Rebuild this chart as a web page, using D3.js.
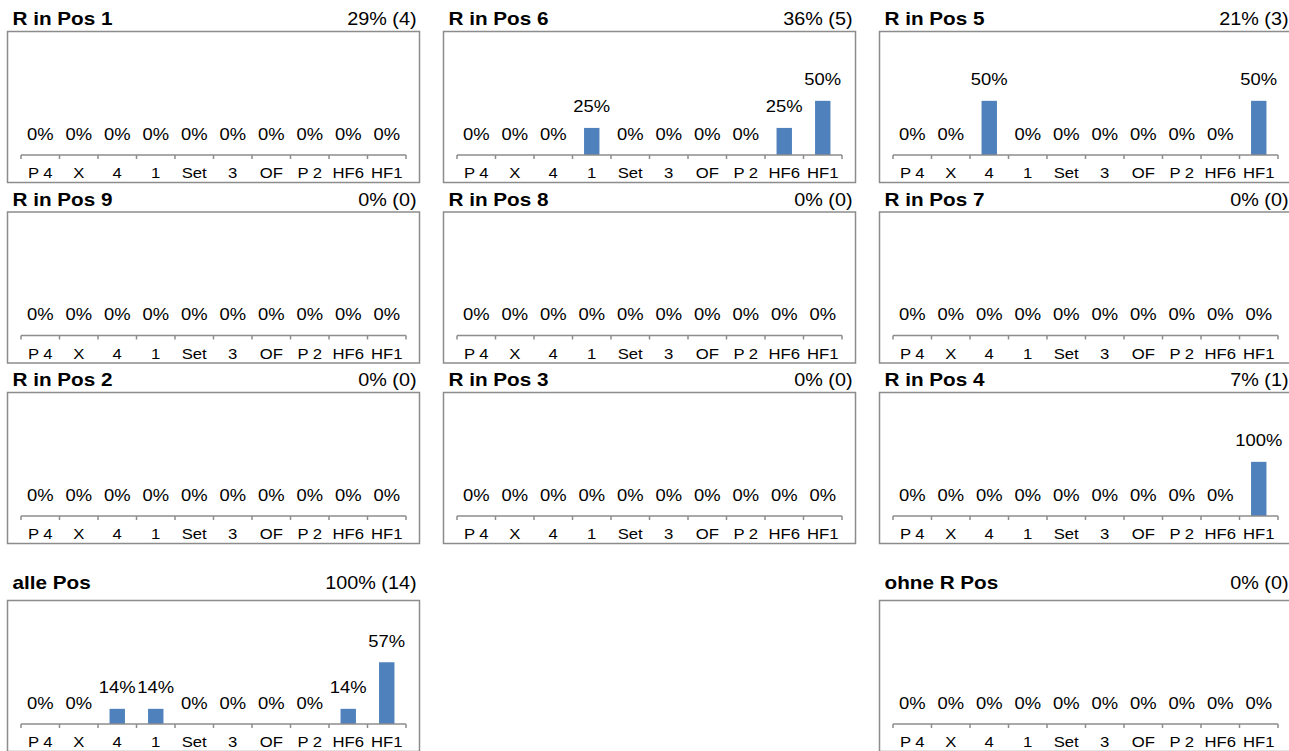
<!DOCTYPE html>
<html>
<head>
<meta charset="utf-8">
<script src="https://cdn.jsdelivr.net/npm/d3@7"></script>
<style>
  html, body { margin: 0; padding: 0; background: #fff; }
  svg { display: block; font-family: "Liberation Sans", Arial, sans-serif; }
</style>
</head>
<body>
<svg id="chart" width="1289" height="751"></svg>
<script>
// Categories on every small chart's x axis
const categories = ["P 4", "X", "4", "1", "Set", "3", "OF", "P 2", "HF6", "HF1"];

// Panel headings, overall share (%) and count, in grid order (null = empty slot)
const panelNames  = ["R in Pos 1", "R in Pos 6", "R in Pos 5",
                     "R in Pos 9", "R in Pos 8", "R in Pos 7",
                     "R in Pos 2", "R in Pos 3", "R in Pos 4",
                     "alle Pos", null, "ohne R Pos"];
const panelShares = [29, 36, 21, 0, 0, 0, 0, 0, 7, 100, null, 0];
const panelCounts = [4, 5, 3, 0, 0, 0, 0, 0, 1, 14, null, 0];

// Distribution (%) over the categories for each panel
const valuesPos1 = [0, 0, 0, 0, 0, 0, 0, 0, 0, 0];
const valuesPos6 = [0, 0, 0, 25, 0, 0, 0, 0, 25, 50];
const valuesPos5 = [0, 0, 50, 0, 0, 0, 0, 0, 0, 50];
const valuesPos9 = [0, 0, 0, 0, 0, 0, 0, 0, 0, 0];
const valuesPos8 = [0, 0, 0, 0, 0, 0, 0, 0, 0, 0];
const valuesPos7 = [0, 0, 0, 0, 0, 0, 0, 0, 0, 0];
const valuesPos2 = [0, 0, 0, 0, 0, 0, 0, 0, 0, 0];
const valuesPos3 = [0, 0, 0, 0, 0, 0, 0, 0, 0, 0];
const valuesPos4 = [0, 0, 0, 0, 0, 0, 0, 0, 0, 100];
const valuesAll  = [0, 0, 14, 14, 0, 0, 0, 0, 14, 57];
const valuesNone = [0, 0, 0, 0, 0, 0, 0, 0, 0, 0];

const panelValues = [valuesPos1, valuesPos6, valuesPos5,
                     valuesPos9, valuesPos8, valuesPos7,
                     valuesPos2, valuesPos3, valuesPos4,
                     valuesAll, null, valuesNone];

// Layout
const colLeft = [7.5, 443.5, 879.5];
const rowTop = [31.5, 212, 392.5, 600.5];
const titleGap = [6.5, 6.5, 6.5, 12];
const boxW = 412, boxH = 151;
const axisOffset = 123.5;     // axis line below box top
const plotH = 65;             // height of the value range inside a panel
const axisInset = 13.5;       // axis start/end inset from the box sides
const stretch = 1.15;         // horizontal stretch of all text
const barColor = "#4f81bd";
const frameColor = "#8c8c8c";

const svg = d3.select("#chart");

function stretchedText(g, x, y, str, opts) {
  return g.append("text")
    .attr("transform", `translate(${x},${y}) scale(${opts.stretch || stretch},1)`)
    .attr("text-anchor", opts.anchor || "middle")
    .attr("font-size", opts.size)
    .attr("font-weight", opts.weight || "normal")
    .attr("fill", "#000")
    .text(str);
}

panelNames.forEach((name, i) => {
  if (name === null) return;
  const col = i % 3, row = Math.floor(i / 3);
  const left = colLeft[col], top = rowTop[row];
  const vals = panelValues[i];
  const g = svg.append("g");

  // heading
  stretchedText(g, left + 5, top - titleGap[row], name, { anchor: "start", size: 18, weight: "bold" });
  stretchedText(g, left + boxW - 3, top - titleGap[row],
    `${panelShares[i]}% (${panelCounts[i]})`, { anchor: "end", size: 18, stretch: 1.1 });

  // frame
  g.append("rect")
    .attr("x", left).attr("y", top)
    .attr("width", boxW).attr("height", boxH)
    .attr("fill", "#fff")
    .attr("stroke", frameColor)
    .attr("stroke-width", 1.5);

  const axisY = top + axisOffset;
  const x = d3.scaleBand()
    .domain(categories)
    .range([left + axisInset, left + boxW - axisInset])
    .paddingInner(0.6)
    .paddingOuter(0.3);
  const maxV = d3.max(vals);
  const y = d3.scaleLinear()
    .domain([0, maxV > 0 ? maxV * 1.05 : 1])
    .nice(5)
    .range([axisY, axisY - plotH]);

  // bars
  g.selectAll("rect.bar")
    .data(categories.map((c, k) => ({ c, v: vals[k] })))
    .join("rect")
    .attr("class", "bar")
    .attr("x", d => x(d.c))
    .attr("width", x.bandwidth())
    .attr("y", d => y(d.v))
    .attr("height", d => y(0) - y(d.v))
    .attr("fill", barColor);

  // value labels
  categories.forEach((c, k) => {
    stretchedText(g, x(c) + x.bandwidth() / 2, y(vals[k]) - 15.5, `${vals[k]}%`, { size: 16 });
  });

  // category axis with ticks at the category boundaries
  const step = x.step();
  const bounds = categories.map(c => x(c) + x.bandwidth() / 2 - step / 2);
  bounds.push(bounds[bounds.length - 1] + step);
  g.append("line")
    .attr("x1", bounds[0]).attr("x2", bounds[bounds.length - 1])
    .attr("y1", axisY).attr("y2", axisY)
    .attr("stroke", frameColor).attr("stroke-width", 1.5);
  g.selectAll("line.tick")
    .data(bounds)
    .join("line")
    .attr("class", "tick")
    .attr("x1", d => d).attr("x2", d => d)
    .attr("y1", axisY).attr("y2", axisY + 4)
    .attr("stroke", frameColor).attr("stroke-width", 1.5);

  categories.forEach(c => {
    stretchedText(g, x(c) + x.bandwidth() / 2, top + 146.5, c, { size: 14.5 });
  });
});
</script>
</body>
</html>
